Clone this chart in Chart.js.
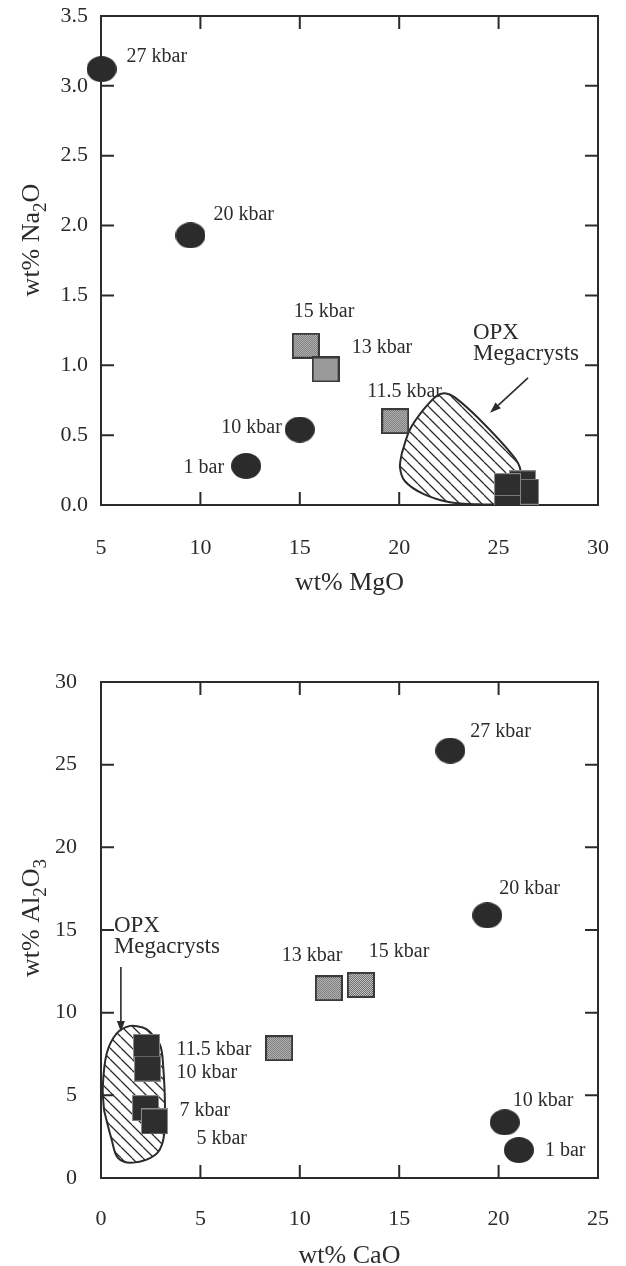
<!DOCTYPE html>
<html>
<head>
<meta charset="utf-8">
<script src="https://cdn.jsdelivr.net/npm/chart.js@4.4.1/dist/chart.umd.min.js"></script>
<style>
  html, body { margin: 0; padding: 0; background: #fff; }
  canvas { display: block; }
</style>
</head>
<body>
<canvas id="chartNa" width="626" height="630"></canvas>
<canvas id="chartAl" width="626" height="636"></canvas>
<script>
// ---- Na2O vs MgO (upper plot) ----
const naCircleMgO = [5.03, 9.5, 15.0, 12.3];
const naCircleNa2O = [3.12, 1.93, 0.54, 0.28];
const naCircleLabels = ['27 kbar', '20 kbar', '10 kbar', '1 bar'];

const naGrayMgO = [15.3, 16.3, 19.8];
const naGrayNa2O = [1.14, 0.97, 0.60];
const naGrayLabels = ['15 kbar', '13 kbar', '11.5 kbar'];

const naBlackMgO = [26.2, 26.35, 25.45, 25.45];
const naBlackNa2O = [0.155, 0.095, 0.135, -0.02];

// contour of the OPX megacryst field
const naOpxMgO = [20.13, 20.54, 21.21, 21.88, 22.3, 22.8, 24.06, 25.74, 26.1, 26.0, 25.3, 24.0, 22.55, 21.21, 20.29, 20.04, 20.13];
const naOpxNa2O = [0.37, 0.54, 0.68, 0.78, 0.80, 0.77, 0.61, 0.35, 0.25, 0.10, 0.01, 0.005, 0.02, 0.08, 0.17, 0.27, 0.37];

const naTicksX = [5, 10, 15, 20, 25, 30];
const naTicksY = [0, 0.5, 1.0, 1.5, 2.0, 2.5, 3.0, 3.5];

// ---- Al2O3 vs CaO (lower plot) ----
const alCircleCaO = [17.57, 19.43, 20.31, 21.02];
const alCircleAl2O3 = [25.85, 15.89, 3.37, 1.69];
const alCircleLabels = ['27 kbar', '20 kbar', '10 kbar', '1 bar'];

const alGrayCaO = [11.46, 13.07, 8.96];
const alGrayAl2O3 = [11.48, 11.68, 7.85];
const alGrayLabels = ['13 kbar', '15 kbar', ''];

const alBlackCaO = [2.29, 2.34, 2.24, 2.69];
const alBlackAl2O3 = [7.93, 6.62, 4.23, 3.42];
const alBlackLabels = ['11.5 kbar', '10 kbar', '7 kbar', '5 kbar'];

const alOpxCaO = [0.15, 0.09, 0.29, 0.79, 1.46, 2.1, 2.46, 2.97, 3.13, 3.22, 3.13, 2.72, 1.62, 0.86, 0.54, 0.15];
const alOpxAl2O3 = [4.11, 5.52, 7.54, 8.75, 9.2, 9.1, 8.83, 8.05, 6.73, 4.11, 2.3, 1.39, 0.93, 1.21, 2.3, 4.11];

const alTicksX = [0, 5, 10, 15, 20, 25];
const alTicksY = [0, 5, 10, 15, 20, 25, 30];

const opxNote = ['OPX', 'Megacrysts'];

// ---- look ----
const serif = '"Liberation Serif", "Times New Roman", serif';
const ink = '#2b2b2b';
const TICK = 13;

const pts = (xs, ys) => xs.map((x, i) => ({ x: x, y: ys[i] }));

function makeCircle() {
    const c = document.createElement('canvas');
    c.width = 30; c.height = 26;
    const g = c.getContext('2d');
    g.fillStyle = ink;
    g.beginPath();
    g.ellipse(15, 13, 15, 13, 0, 0, Math.PI * 2);
    g.fill();
    return c;
}

function makeGraySquare() {
    const c = document.createElement('canvas');
    c.width = 28; c.height = 26;
    const g = c.getContext('2d');
    g.fillStyle = '#3a3a3a';
    g.fillRect(0, 0, 28, 26);
    g.fillStyle = '#d4d4d4';
    g.fillRect(2, 2, 24, 22);
    g.fillStyle = '#5e5e5e';
    for (let y = 2; y < 24; y++) {
        for (let x = 2 + (y % 2); x < 26; x += 2) g.fillRect(x, y, 1, 1);
    }
    return c;
}

function makeBlackSquare() {
    const c = document.createElement('canvas');
    c.width = 27; c.height = 26;
    const g = c.getContext('2d');
    g.fillStyle = '#2e2e2e';
    g.fillRect(0, 0, 27, 26);
    g.strokeStyle = '#8a8a8a';
    g.lineWidth = 1;
    g.strokeRect(0.5, 0.5, 26, 25);
    return c;
}

function makeHatch() {
    const c = document.createElement('canvas');
    c.width = 11; c.height = 11;
    const g = c.getContext('2d');
    g.strokeStyle = ink;
    g.lineWidth = 1.3;
    g.beginPath();
    for (let k = -1; k <= 1; k++) {
        g.moveTo(0, k * 11);
        g.lineTo(11, 11 + k * 11);
    }
    g.stroke();
    return g.createPattern(c, 'repeat');
}

const circleImg = makeCircle();
const graySq = makeGraySquare();
const blackSq = makeBlackSquare();
const hatch = makeHatch();

// text with lowered subscripts: parts = [[text, isSub], ...]
function drawRich(ctx, parts, x, y, size, rotate) {
    const big = size + 'px ' + serif;
    const small = Math.round(size * 0.72) + 'px ' + serif;
    let w = 0;
    parts.forEach(p => { ctx.font = p[1] ? small : big; w += ctx.measureText(p[0]).width; });
    ctx.save();
    ctx.translate(x, y);
    if (rotate) ctx.rotate(-Math.PI / 2);
    ctx.textAlign = 'left';
    ctx.textBaseline = 'alphabetic';
    let cx = -w / 2;
    parts.forEach(p => {
        ctx.font = p[1] ? small : big;
        ctx.fillText(p[0], cx, p[1] ? size * 0.28 : 0);
        cx += ctx.measureText(p[0]).width;
    });
    ctx.restore();
}

function arrow(ctx, x1, y1, x2, y2) {
    const ang = Math.atan2(y2 - y1, x2 - x1);
    const hl = 11, hw = 4;
    ctx.beginPath();
    ctx.moveTo(x1, y1);
    ctx.lineTo(x2 - hl * Math.cos(ang), y2 - hl * Math.sin(ang));
    ctx.stroke();
    ctx.beginPath();
    ctx.moveTo(x2, y2);
    ctx.lineTo(x2 - hl * Math.cos(ang) + hw * Math.sin(ang), y2 - hl * Math.sin(ang) - hw * Math.cos(ang));
    ctx.lineTo(x2 - hl * Math.cos(ang) - hw * Math.sin(ang), y2 - hl * Math.sin(ang) + hw * Math.cos(ang));
    ctx.closePath();
    ctx.fill();
}

// frame, inward ticks, titles, point labels and the OPX note
function decor(cfg) {
    return {
        id: 'decor',
        beforeDatasetsDraw(chart) {
            const { ctx, chartArea: a, scales: { x, y } } = chart;
            ctx.save();
            ctx.strokeStyle = ink;
            ctx.lineWidth = 2;
            ctx.beginPath();
            x.ticks.forEach(t => {
                const px = x.getPixelForValue(t.value);
                if (px <= a.left + 2 || px >= a.right - 2) return;
                ctx.moveTo(px, a.bottom); ctx.lineTo(px, a.bottom - TICK);
                ctx.moveTo(px, a.top); ctx.lineTo(px, a.top + TICK);
            });
            y.ticks.forEach(t => {
                const py = y.getPixelForValue(t.value);
                if (py <= a.top + 2 || py >= a.bottom - 2) return;
                ctx.moveTo(a.left, py); ctx.lineTo(a.left + TICK, py);
                ctx.moveTo(a.right, py); ctx.lineTo(a.right - TICK, py);
            });
            ctx.stroke();
            ctx.strokeRect(a.left, a.top, a.width, a.height);
            ctx.restore();
        },
        afterDatasetsDraw(chart) {
            const { ctx, chartArea: a, scales: { x, y } } = chart;
            ctx.save();
            ctx.fillStyle = ink;
            ctx.strokeStyle = ink;
            // point labels
            ctx.font = '20px ' + serif;
            ctx.textBaseline = 'alphabetic';
            cfg.labels.forEach(l => {
                const el = chart.getDatasetMeta(l.ds).data[l.i];
                const text = cfg.texts[l.ds][l.i];
                if (!text) return;
                ctx.textAlign = l.align || 'left';
                ctx.fillText(text, el.x + l.dx, el.y + l.dy);
            });
            // OPX note + arrow
            ctx.font = '23px ' + serif;
            ctx.textAlign = 'left';
            const nx = x.getPixelForValue(cfg.note.x);
            ctx.fillText(opxNote[0], nx, y.getPixelForValue(cfg.note.y1));
            ctx.fillText(opxNote[1], nx, y.getPixelForValue(cfg.note.y2));
            ctx.lineWidth = 1.6;
            arrow(ctx, x.getPixelForValue(cfg.arrow[0]), y.getPixelForValue(cfg.arrow[1]),
                       x.getPixelForValue(cfg.arrow[2]), y.getPixelForValue(cfg.arrow[3]));
            // axis titles
            drawRich(ctx, cfg.xTitle, (a.left + a.right) / 2, a.bottom + 85, 26, false);
            drawRich(ctx, cfg.yTitle, 39, cfg.yTitleAt, 26, true);
            ctx.restore();
        }
    };
}

function tickFont() { return { family: serif, size: 22 }; }

function buildChart(id, opts) {
    return new Chart(document.getElementById(id), {
        type: 'scatter',
        data: {
            datasets: [
                { data: opts.circles, pointStyle: circleImg, pointRadius: 14, clip: false },
                { data: opts.grays, pointStyle: graySq, pointRadius: 14, clip: false },
                { data: opts.blacks, pointStyle: blackSq, pointRadius: 14,
                  clip: { left: false, top: false, right: false, bottom: 0 } },
                { data: opts.opx, showLine: true, fill: 'shape', tension: 0.35,
                  backgroundColor: hatch, borderColor: ink, borderWidth: 2,
                  pointRadius: 0, order: 5 }
            ]
        },
        options: {
            responsive: false,
            animation: false,
            devicePixelRatio: 1,
            events: [],
            layout: { padding: { left: 0, top: opts.top, right: 28, bottom: 0 } },
            plugins: { legend: { display: false }, tooltip: { enabled: false } },
            scales: {
                x: {
                    type: 'linear', min: opts.xTicks[0], max: opts.xTicks[opts.xTicks.length - 1],
                    afterBuildTicks: s => { s.ticks = opts.xTicks.map(v => ({ value: v })); },
                    afterFit: s => { s.height = opts.xHeight; s.paddingLeft = 0; s.paddingRight = 0; },
                    grid: { display: false, drawTicks: false },
                    border: { display: false },
                    ticks: { font: tickFont(), color: ink, padding: opts.xPad, maxRotation: 0,
                             callback: v => String(v) }
                },
                y: {
                    type: 'linear', min: opts.yTicks[0], max: opts.yTicks[opts.yTicks.length - 1],
                    afterBuildTicks: s => { s.ticks = opts.yTicks.map(v => ({ value: v })); },
                    afterFit: s => { s.width = 101; s.paddingTop = 0; s.paddingBottom = 0; },
                    grid: { display: false, drawTicks: false },
                    border: { display: false },
                    ticks: { font: tickFont(), color: ink, padding: opts.yPad, callback: opts.yFmt }
                }
            }
        },
        plugins: [decor(opts.decor)]
    });
}

buildChart('chartNa', {
    circles: pts(naCircleMgO, naCircleNa2O),
    grays: pts(naGrayMgO, naGrayNa2O),
    blacks: pts(naBlackMgO, naBlackNa2O),
    opx: pts(naOpxMgO, naOpxNa2O),
    xTicks: naTicksX, yTicks: naTicksY,
    yFmt: v => v.toFixed(1),
    top: 16, xHeight: 125, xPad: 30, yPad: 13,
    decor: {
        texts: [naCircleLabels, naGrayLabels, []],
        labels: [
            { ds: 0, i: 0, dx: 25, dy: -7 },
            { ds: 0, i: 1, dx: 23, dy: -15 },
            { ds: 0, i: 2, dx: -18, dy: 3, align: 'right' },
            { ds: 0, i: 3, dx: -22, dy: 7, align: 'right' },
            { ds: 1, i: 0, dx: -12, dy: -29 },
            { ds: 1, i: 1, dx: 26, dy: -16 },
            { ds: 1, i: 2, dx: -28, dy: -24 }
        ],
        note: { x: 23.71, y1: 1.19, y2: 1.04 },
        arrow: [26.48, 0.91, 24.57, 0.66],
        xTitle: [['wt% MgO', false]],
        yTitle: [['wt% Na', false], ['2', true], ['O', false]],
        yTitleAt: 240
    }
});

buildChart('chartAl', {
    circles: pts(alCircleCaO, alCircleAl2O3),
    grays: pts(alGrayCaO, alGrayAl2O3),
    blacks: pts(alBlackCaO, alBlackAl2O3),
    opx: pts(alOpxCaO, alOpxAl2O3),
    xTicks: alTicksX, yTicks: alTicksY,
    yFmt: v => String(v),
    top: 52, xHeight: 88, xPad: 28, yPad: 24,
    decor: {
        texts: [alCircleLabels, alGrayLabels, alBlackLabels],
        labels: [
            { ds: 0, i: 0, dx: 20, dy: -14 },
            { ds: 0, i: 1, dx: 12, dy: -21 },
            { ds: 0, i: 2, dx: 8, dy: -16 },
            { ds: 0, i: 3, dx: 26, dy: 6 },
            { ds: 1, i: 0, dx: -47, dy: -27 },
            { ds: 1, i: 1, dx: 8, dy: -28 },
            { ds: 2, i: 0, dx: 30, dy: 8 },
            { ds: 2, i: 1, dx: 29, dy: 9 },
            { ds: 2, i: 2, dx: 34, dy: 8 },
            { ds: 2, i: 3, dx: 42, dy: 23 }
        ],
        note: { x: 0.65, y1: 14.88, y2: 13.61 },
        arrow: [1.0, 12.76, 1.0, 8.83],
        xTitle: [['wt% CaO', false]],
        yTitle: [['wt% Al', false], ['2', true], ['O', false], ['3', true]],
        yTitleAt: 288
    }
});
</script>
</body>
</html>
